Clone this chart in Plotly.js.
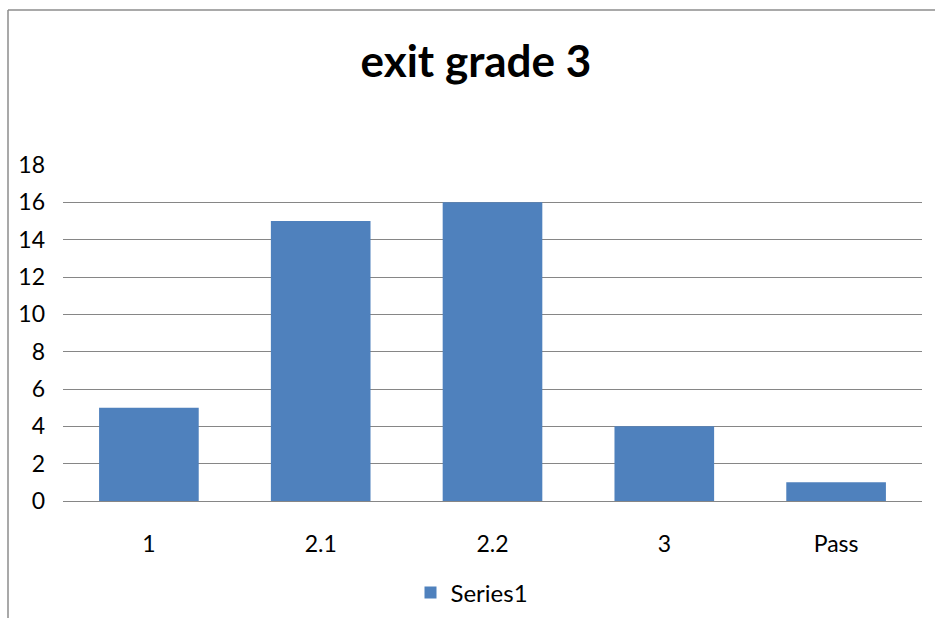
<!DOCTYPE html>
<html>
<head>
<meta charset="utf-8">
<script src="https://cdn.plot.ly/plotly-3.0.1.min.js"></script>
<style>html,body{margin:0;padding:0;background:#fff;}#chart{width:935px;height:618px;}</style>
</head>
<body>
<div id="chart"></div>
<script>
const categories = ["1", "2.1", "2.2", "3", "Pass"];
const series1 = [5, 15, 16, 4, 1];
const yTicks = [0, 2, 4, 6, 8, 10, 12, 14, 16, 18];

const W = 935, H = 618, L = 63, R = 13, T = 165, B = 117;
const pw = W - L - R, ph = H - T - B;
const px = v => (v - L) / pw;
const py = v => 1 - (v - T) / ph;

const trace = {
  type: "bar",
  x: categories,
  y: series1,
  name: "Series1",
  marker: {color: "#4f81bd"},
  hoverinfo: "x+y"
};

const layout = {
  width: W, height: H,
  margin: {l: L, r: R, t: T, b: B, autoexpand: false},
  paper_bgcolor: "#fff", plot_bgcolor: "#fff",
  font: {family: "Lato, 'Open Sans', sans-serif", color: "#000", size: 23},
  title: {text: "<b>exit grade 3</b>", font: {size: 44, family: "Lato, sans-serif", color: "#000"},
          x: 0.509, xanchor: "center", y: 1 - 62 / H, yanchor: "middle"},
  bargap: 0.42,
  showlegend: true,
  legend: {orientation: "h", x: px(472), xanchor: "center", y: py(593), yanchor: "middle",
           font: {size: 24}},
  xaxis: {type: "category", showgrid: false, showline: true, linecolor: "#868686", linewidth: 1,
          ticks: "", ticklabelstandoff: 22, tickfont: {size: 23}},
  yaxis: {range: [0, 18], tickvals: yTicks, showgrid: true, gridcolor: "#868686", gridwidth: 1,
          zeroline: false, showline: false, ticks: "", ticklabelstandoff: 17, tickfont: {size: 23}},
  shapes: [
    {type: "line", xref: "paper", yref: "paper", x0: px(8), x1: px(8), y0: py(10), y1: py(640),
     line: {color: "#8c8c8c", width: 1.5}},
    {type: "line", xref: "paper", yref: "paper", x0: px(8), x1: px(960), y0: py(10), y1: py(10),
     line: {color: "#8c8c8c", width: 1.5}}
  ]
};

Plotly.newPlot("chart", [trace], layout, {displayModeBar: false});
</script>
</body>
</html>
